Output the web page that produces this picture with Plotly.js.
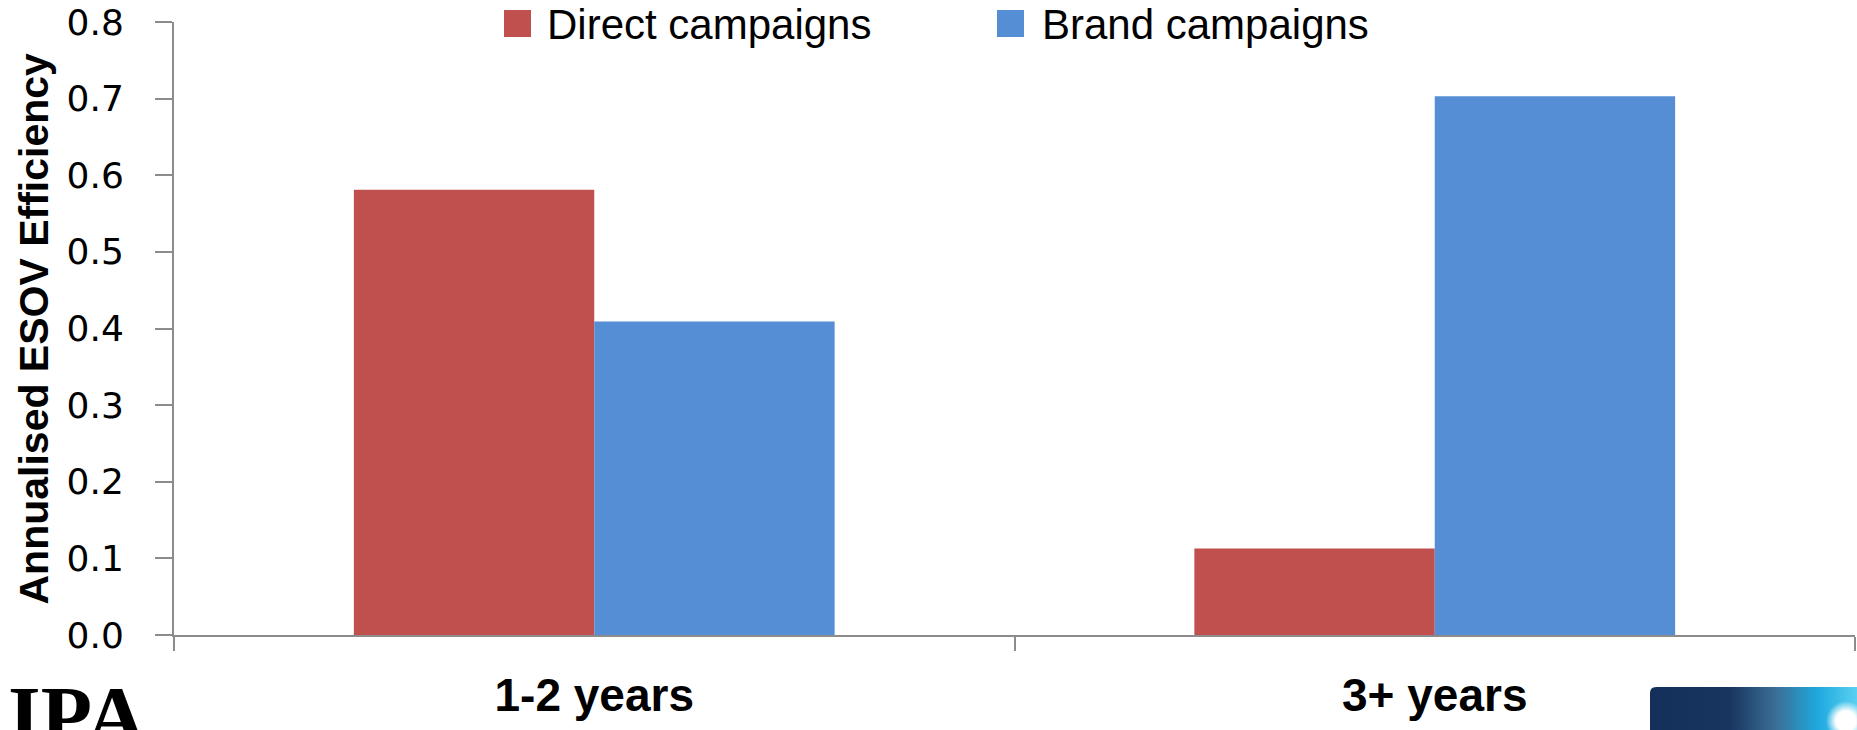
<!DOCTYPE html>
<html>
<head>
<meta charset="utf-8">
<script src="https://cdn.plot.ly/plotly-3.0.1.min.js"></script>
<style>
html, body { margin: 0; padding: 0; background: #ffffff; overflow: hidden; }
#chart { width: 1857px; height: 730px; }
</style>
</head>
<body>
<div id="chart"></div>
<script>
// ---- data ----
const categories = ['1-2 years', '3+ years'];
const seriesNames = ['Direct campaigns', 'Brand campaigns'];
const directValues = [0.581, 0.113];
const brandValues = [0.409, 0.703];
const seriesColors = ['#C0504D', '#558ED5'];
const yTickValues = [0, 0.1, 0.2, 0.3, 0.4, 0.5, 0.6, 0.7, 0.8];
const yTickLabels = ['0.0', '0.1', '0.2', '0.3', '0.4', '0.5', '0.6', '0.7', '0.8'];
const yAxisTitle = 'Annualised ESOV Efficiency';

// ---- geometry helpers (pixels -> paper) ----
const W = 1857, H = 730;
const M = { l: 174, r: 2, t: 22, b: 95 };
const PW = W - M.l - M.r, PH = H - M.t - M.b;
const px = x => (x - M.l) / PW;
const py = y => (H - M.b - y) / PH;

const seriesValues = [directValues, brandValues];
const traces = seriesValues.map((vals, i) => ({
  type: 'bar',
  name: seriesNames[i],
  x: categories,
  y: vals,
  marker: { color: seriesColors[i], line: { width: 0 } },
  showlegend: false
}));

// custom legend (large squares like the original)
const legendSquareLeft = [504, 997];
const legendTextLeft = [545, 1040];
const shapes = [];
const annotations = [];
seriesNames.forEach((name, i) => {
  shapes.push({
    type: 'rect', xref: 'paper', yref: 'paper', layer: 'above',
    x0: px(legendSquareLeft[i]), x1: px(legendSquareLeft[i] + 27),
    y0: py(37), y1: py(10),
    fillcolor: seriesColors[i], line: { width: 0 }
  });
  annotations.push({
    xref: 'paper', yref: 'paper', x: px(legendTextLeft[i]), y: py(24.5),
    xanchor: 'left', yanchor: 'middle', showarrow: false,
    text: name,
    font: { family: 'Liberation Sans, Arial, sans-serif', size: 42, color: '#000000' }
  });
});

// y-axis title
annotations.push({
  xref: 'paper', yref: 'paper', x: px(33), y: py(328.5),
  xanchor: 'center', yanchor: 'middle', showarrow: false,
  textangle: -90,
  text: yAxisTitle,
  font: { family: 'Liberation Sans, Arial, sans-serif', size: 41, color: '#000000', weight: 'bold' }
});

// logo text at bottom-left (cropped in the original)
annotations.push({
  xref: 'paper', yref: 'paper', x: px(6), y: py(668),
  xanchor: 'left', yanchor: 'top', showarrow: false,
  text: 'IPA',
  font: { family: 'Liberation Serif, Times New Roman, serif', size: 84, color: '#000000', weight: 'bold' }
});

const logoSvg = '<svg xmlns="http://www.w3.org/2000/svg" width="210" height="50" viewBox="0 0 210 50">' +
  '<defs><linearGradient id="g" x1="0" y1="0" x2="1" y2="0">' +
  '<stop offset="0" stop-color="#14305a"/><stop offset="0.38" stop-color="#17355f"/>' +
  '<stop offset="0.6" stop-color="#3b6f96"/><stop offset="0.8" stop-color="#1ea9df"/>' +
  '<stop offset="1" stop-color="#5fd3f3"/></linearGradient>' +
  '<radialGradient id="w" cx="0.5" cy="0.5" r="0.5"><stop offset="0.5" stop-color="#ffffff"/><stop offset="1" stop-color="#ffffff" stop-opacity="0"/></radialGradient></defs>' +
  '<path d="M0,50 V6 Q0,0 6,0 H210 V50 Z" fill="url(#g)"/>' +
  '<rect x="176" y="14" width="40" height="40" rx="6" fill="url(#w)"/>' +
  '</svg>';

const layout = {
  width: W, height: H,
  margin: M,
  paper_bgcolor: '#ffffff',
  plot_bgcolor: '#ffffff',
  showlegend: false,
  bargap: 0.428,
  bargroupgap: 0,
  barmode: 'group',
  xaxis: {
    type: 'category',
    range: [-0.5, 1.5],
    showline: true, linecolor: '#8c8c8c', linewidth: 2,
    ticks: 'outside', tickson: 'boundaries', ticklen: 14, tickwidth: 2, tickcolor: '#8c8c8c',
    showgrid: false, zeroline: false,
    tickfont: { family: 'Liberation Sans, Arial, sans-serif', size: 46, color: '#000000', weight: 'bold' },
    ticklabelstandoff: 19,
    automargin: false,
    fixedrange: true
  },
  yaxis: {
    range: [0, 0.8],
    tickvals: yTickValues,
    ticktext: yTickLabels,
    showline: true, linecolor: '#8c8c8c', linewidth: 2,
    ticks: 'outside', ticklen: 17, tickwidth: 2, tickcolor: '#8c8c8c',
    showgrid: false, zeroline: false,
    tickfont: { family: 'DejaVu Sans, Verdana, sans-serif', size: 36, color: '#000000' },
    ticklabelstandoff: 24,
    automargin: false,
    fixedrange: true
  },
  shapes: shapes,
  annotations: annotations,
  images: [{
    source: 'data:image/svg+xml;charset=utf-8,' + encodeURIComponent(logoSvg),
    xref: 'paper', yref: 'paper',
    x: px(1650), y: py(687),
    sizex: px(1860) - px(1650), sizey: py(687) - py(737),
    xanchor: 'left', yanchor: 'top', sizing: 'stretch', layer: 'above'
  }]
};

Plotly.newPlot('chart', traces, layout, { displayModeBar: false, staticPlot: true });
</script>
</body>
</html>
